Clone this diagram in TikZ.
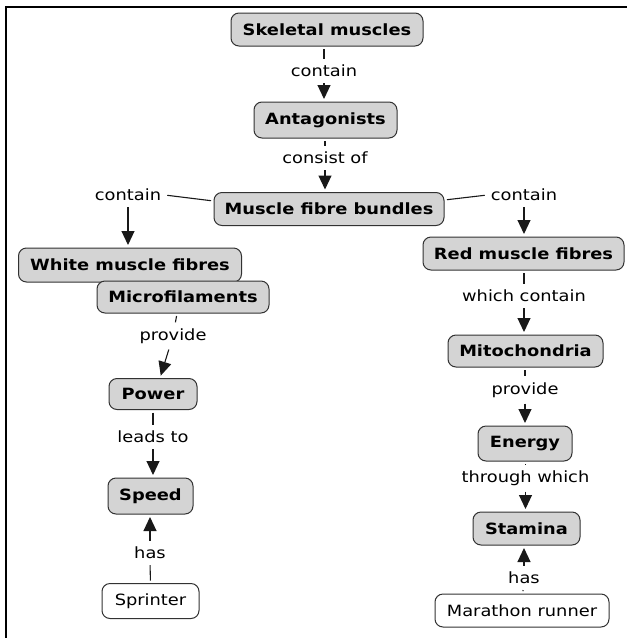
\documentclass[tikz,border=0pt]{standalone}
\usepackage{fontspec}
\setmainfont[FakeStretch=1.15]{DejaVu Sans}
\usetikzlibrary{arrows.meta}
\definecolor{conceptgray}{RGB}{212,212,212}
\definecolor{edgegray}{RGB}{50,50,50}
\begin{document}
\begin{tikzpicture}[x=1pt,y=-1pt,
  concept/.style={draw=edgegray, fill=conceptgray, rounded corners=8pt, line width=1pt,
    font=\fontsize{15.5}{17}\selectfont\bfseries, inner sep=0pt, minimum height=33pt},
  person/.style={concept, fill=white, font=\fontsize{15.5}{17}\selectfont},
  lbl/.style={font=\fontsize{15.5}{17}\selectfont, inner sep=3.5pt},
  link/.style={line width=1.1pt, black!90, shorten <=2.5pt, shorten >=2.5pt},
  arr/.style={link, -{Triangle[width=13pt,length=14pt]}},
]
\useasboundingbox (0,0) rectangle (627,638);
% outer frame (top and left edges)
\draw[line width=2.5pt] (6,638) -- (6,7) -- (627,7);

% concepts
\node[concept, minimum width=192pt] (skel) at (327,29.5) {Skeletal muscles};
\node[concept, minimum width=143pt, minimum height=36pt] (ant) at (325.5,120) {Antagonists};
\node[concept, minimum width=230pt] (mfb) at (329,209) {Muscle fibre bundles};
\node[concept, minimum width=223pt, minimum height=34pt] (wmf) at (130,265) {White muscle fibres};
\node[concept, minimum width=172pt, minimum height=32pt] (micro) at (183,297) {Microfilaments};
\node[concept, minimum width=88pt, minimum height=31pt] (power) at (153,394) {Power};
\node[concept, minimum width=85pt, minimum height=36pt] (speed) at (150.5,496) {Speed};
\node[person, minimum width=97pt, minimum height=35pt] (sprinter) at (150.5,601) {Sprinter};
\node[concept, minimum width=201pt] (rmf) at (523.5,253.5) {Red muscle fibres};
\node[concept, minimum width=155pt, minimum height=32pt] (mito) at (525.5,351) {Mitochondria};
\node[concept, minimum width=94pt, minimum height=35pt] (energy) at (525,443.5) {Energy};
\node[concept, minimum width=107pt] (stam) at (526.5,528.5) {Stamina};
\node[person, minimum width=174pt] (mara) at (522,610.5) {Marathon runner};

% linking phrases
\node[lbl] (l1) at (324,71) {contain};
\node[lbl] (l2) at (325,158) {consist of};
\node[lbl] (lL) at (128,195) {contain};
\node[lbl] (lR) at (524,195) {contain};
\node[lbl] (l3) at (173,336) {provide};
\node[lbl] (l4) at (153,437) {leads to};
\node[lbl] (l5) at (150,553) {has};
\node[lbl] (l6) at (524,296) {which contain};
\node[lbl] (l7) at (525,390) {provide};
\node[lbl] (l8) at (525.5,478) {through which};
\node[lbl] (l9) at (524,578) {has};

% connectors
\draw[link] (l1.north |- skel.south) -- (l1.north);
\draw[arr] (l1.south) -- (l1.south |- ant.north);
\draw[link] (l2.north |- ant.south) -- (l2.north);
\draw[arr] (l2.south) -- (l2.south |- mfb.north);
\draw[link] ([yshift=8pt]mfb.west) -- (lL.east);
\draw[arr] (lL.south) -- (lL.south |- wmf.north);
\draw[link] ([yshift=9pt]mfb.east) -- (lR.west);
\draw[arr] (lR.south) -- (lR.south |- rmf.north);
\draw[link] ([xshift=-6pt]micro.south) -- (l3);
\draw[arr] (l3) -- ([xshift=7pt]power.north);
\draw[link] (l4.north |- power.south) -- (l4.north);
\draw[arr] (l4.south) -- (l4.south |- speed.north);
\draw[link] (sprinter.north) -- (l5.south);
\draw[arr] (l5.north) -- (l5.north |- speed.south);
\draw[link] (l6.north |- rmf.south) -- (l6.north);
\draw[arr] (l6.south) -- (l6.south |- mito.north);
\draw[link] (l7.north |- mito.south) -- (l7.north);
\draw[arr] (l7.south) -- (l7.south |- energy.north);
\draw[link] (l8.north |- energy.south) -- (l8.north);
\draw[arr] (l8.south) -- (l8.south |- stam.north);
\draw[link] (mara.north) -- (l9.south);
\draw[arr] (l9.north) -- (l9.north |- stam.south);
\end{tikzpicture}
\end{document}
